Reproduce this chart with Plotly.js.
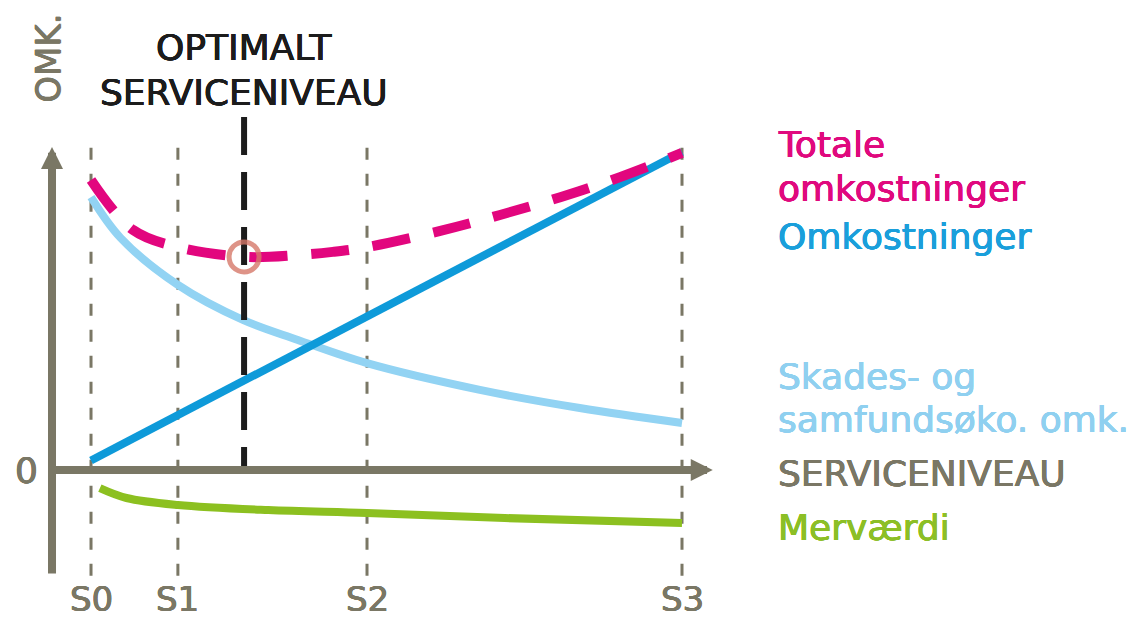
<!DOCTYPE html>
<html>
<head>
<meta charset="utf-8">
<script src="https://cdn.plot.ly/plotly-3.0.1.min.js"></script>
<style>html,body{margin:0;padding:0;background:#fff;}#chart{width:1148px;height:619px;}</style>
</head>
<body>
<div id="chart"></div>
<script>
// ---- data ----
const tickLabels = ['S0', 'S1', 'S2', 'S3'];
const tickX = [0, 1.47, 4.67, 10];
const optimalX = 2.59;
const optimalY = 6.70;

const omkX = [0, 10];
const omkY = [0.3, 10];

const skadeX = [0, 0.5, 1.47, 2.57, 3.5, 4.67, 6.58, 8.27, 10];
const skadeY = [8.58, 7.3, 5.82, 4.72, 4.09, 3.36, 2.52, 1.95, 1.48];

const totalX = [0, 0.71, 1.47, 2.64, 3.49, 4.09, 4.67, 5.91, 6.92, 7.94, 8.95, 10];
const totalY = [9.12, 7.55, 7.01, 6.70, 6.76, 6.86, 7.01, 7.52, 8.02, 8.58, 9.21, 9.97];

const mervX = [0.15, 0.6, 1.47, 3, 4.67, 7, 10];
const mervY = [-0.57, -0.88, -1.10, -1.26, -1.35, -1.51, -1.67];

const seriesLabels = [
  {text: 'Totale', y: 10.25, color: '#e0097e'},
  {text: 'omkostninger', y: 8.85, color: '#e0097e'},
  {text: 'Omkostninger', y: 7.35, color: '#1a9fdb'},
  {text: 'Skades- og', y: 2.95, color: '#8fd0f0'},
  {text: 'samfundsøko. omk.', y: 1.6, color: '#8fd0f0'},
  {text: 'SERVICENIVEAU', y: -0.1, color: '#7a7765'},
  {text: 'Merværdi', y: -1.8, color: '#8cbf26'}
];
const titleLines = ['OPTIMALT', 'SERVICENIVEAU'];
const yAxisLabel = 'OMK.';
const zeroLabel = '0';

// ---- styles ----
const GREY = '#7a7765';
const FONT = 'DejaVu Sans, sans-serif';
const X0 = -1.54, X1 = 17.885, Y0 = -4.685, Y1 = 14.78;
const guideTop = 10.13, guideBottom = -3.36;
const labelX = 11.59;
function heavy(color, size) {
  const d = 0.4;
  return {family: FONT, size: size, color: color,
    shadow: `${d}px 0 0 ${color}, -${d}px 0 0 ${color}, 0 ${d}px 0 ${color}, 0 -${d}px 0 ${color}`};
}

// grey dashed guides built from tickX
const gx = [], gy = [];
tickX.forEach(v => { gx.push(v, v, null); gy.push(guideTop, guideBottom, null); });

const traces = [
  {x: gx, y: gy, mode: 'lines', line: {color: GREY, width: 3, dash: '12px,14px'}, hoverinfo: 'skip'},
  {x: mervX, y: mervY, mode: 'lines', line: {color: '#8cc020', width: 8, shape: 'spline'}},
  {x: skadeX, y: skadeY, mode: 'lines', line: {color: '#92d3f3', width: 8, shape: 'spline'}},
  {x: omkX, y: omkY, mode: 'lines', line: {color: '#0e9ad9', width: 8}},
  {x: totalX, y: totalY, mode: 'lines', line: {color: '#e2067e', width: 10, shape: 'spline', dash: '38px,24px'}},
  {x: [optimalX, optimalX], y: [11.1, 0], mode: 'lines', line: {color: '#1c1c1c', width: 6, dash: '38px,17px'}},
  {x: [optimalX], y: [optimalY], mode: 'markers', marker: {symbol: 'circle-open', size: 30, color: 'rgba(214,120,105,0.8)', line: {width: 5, color: 'rgba(214,120,105,0.8)'}}}
];

const annotations = [];
// axes arrows
annotations.push({x: 10.52, y: 0, ax: -0.73, ay: 0, xref: 'x', yref: 'y', axref: 'x', ayref: 'y', text: '', showarrow: true, arrowhead: 2, arrowwidth: 8, arrowsize: 0.55, arrowcolor: GREY, standoff: 0});
annotations.push({x: -0.66, y: 10.16, ax: -0.66, ay: -3.30, xref: 'x', yref: 'y', axref: 'x', ayref: 'y', text: '', showarrow: true, arrowhead: 2, arrowwidth: 8, arrowsize: 0.55, arrowcolor: GREY, standoff: 0});
// tick labels
tickLabels.forEach((t, i) => annotations.push({x: tickX[i], y: -4.05, xref: 'x', yref: 'y', text: t, showarrow: false, xanchor: 'center', yanchor: 'middle', font: heavy(GREY, 34)}));
annotations.push({x: -1.1, y: 0, xref: 'x', yref: 'y', text: zeroLabel, showarrow: false, xanchor: 'center', yanchor: 'middle', font: heavy(GREY, 36)});
annotations.push({x: -0.72, y: 12.95, xref: 'x', yref: 'y', text: yAxisLabel, showarrow: false, textangle: -90, xanchor: 'center', yanchor: 'middle', font: heavy(GREY, 34)});
// title
titleLines.forEach((t, i) => annotations.push({x: optimalX, y: 13.3 - i * 1.42, xref: 'x', yref: 'y', text: t, showarrow: false, xanchor: 'center', yanchor: 'middle', font: heavy('#1c1c1c', 36)}));
// series labels
seriesLabels.forEach(s => annotations.push({x: labelX, y: s.y, xref: 'x', yref: 'y', text: s.text, showarrow: false, xanchor: 'left', yanchor: 'middle', font: heavy(s.color, 36)}));

const layout = {
  width: 1148, height: 619,
  margin: {l: 0, r: 0, t: 0, b: 0},
  paper_bgcolor: '#ffffff', plot_bgcolor: '#ffffff',
  showlegend: false,
  xaxis: {range: [X0, X1], visible: false, fixedrange: true},
  yaxis: {range: [Y0, Y1], visible: false, fixedrange: true},
  annotations: annotations
};

Plotly.newPlot('chart', traces, layout, {displayModeBar: false, staticPlot: true});
</script>
</body>
</html>
